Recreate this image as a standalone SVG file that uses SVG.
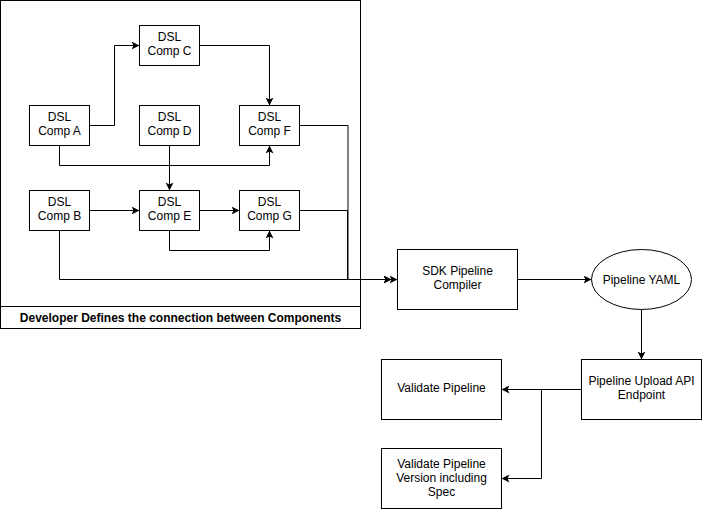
<svg xmlns="http://www.w3.org/2000/svg" width="702" height="510" viewBox="0 0 702 510">
<style>
.box{fill:#fff;stroke:#000;stroke-width:1}
.t{font-family:"Liberation Sans",Arial,sans-serif;font-size:12px;fill:#000;text-anchor:middle}
.tb{font-family:"Liberation Sans",Arial,sans-serif;font-size:12px;font-weight:bold;fill:#000;text-anchor:middle}
.c{fill:none;stroke:#000;stroke-width:1}
</style>
<defs>
<marker id="arr" markerUnits="userSpaceOnUse" markerWidth="10" markerHeight="10" refX="8" refY="4" orient="auto">
<path d="M0,0 L8,4 L0,8 L2,4 Z" fill="#000"/>
</marker>
</defs>
<rect width="702" height="510" fill="#fff"/>
<g id="container">
<rect class="box" x="0.5" y="0.5" width="360" height="328"/>
<line x1="0.5" y1="306.5" x2="360.5" y2="306.5" stroke="#000"/>
<text class="tb" x="180.5" y="321.5">Developer Defines the connection between Components</text>
</g>
<g id="connectors">
<path class="c" d="M89.5,125.5 H114.5 V45.5 H139.5" marker-end="url(#arr)"/>
<path class="c" d="M199.5,45.5 H269.5 V105.5" marker-end="url(#arr)"/>
<path class="c" d="M59.5,145.5 V165.5 H269.5 V145.5" marker-end="url(#arr)"/>
<path class="c" d="M169.5,145.5 V190.5" marker-end="url(#arr)"/>
<path class="c" d="M89.5,210.5 H139.5" marker-end="url(#arr)"/>
<path class="c" d="M199.5,210.5 H239.5" marker-end="url(#arr)"/>
<path class="c" d="M169.5,230.5 V250.5 H269.5 V230.5" marker-end="url(#arr)"/>
<path class="c" d="M299.5,125.5 H348 V279.5 H391.5" stroke="#777" marker-end="url(#arr)"/>
<path class="c" d="M299.5,210.5 H347.5 V279.5 H391.5" marker-end="url(#arr)"/>
<path class="c" d="M59.5,230.5 V279.5 H397.5" marker-end="url(#arr)"/>
<path class="c" d="M517.5,279.5 H591.5" marker-end="url(#arr)"/>
<path class="c" d="M641.5,309.5 V359.5" marker-end="url(#arr)"/>
<path class="c" d="M581.5,389.5 H501.5" marker-end="url(#arr)"/>
<path class="c" d="M541.5,389.5 V478.5 H501.5" marker-end="url(#arr)"/>
</g>
<g id="compC"><rect class="box" x="139.5" y="25.5" width="60" height="40"/><text class="t" x="169.5" y="41">DSL</text><text class="t" x="169.5" y="55">Comp C</text></g>
<g id="compA"><rect class="box" x="29.5" y="105.5" width="60" height="40"/><text class="t" x="59.5" y="121">DSL</text><text class="t" x="59.5" y="135">Comp A</text></g>
<g id="compD"><rect class="box" x="139.5" y="105.5" width="60" height="40"/><text class="t" x="169.5" y="121">DSL</text><text class="t" x="169.5" y="135">Comp D</text></g>
<g id="compF"><rect class="box" x="239.5" y="105.5" width="60" height="40"/><text class="t" x="269.5" y="121">DSL</text><text class="t" x="269.5" y="135">Comp F</text></g>
<g id="compB"><rect class="box" x="29.5" y="190.5" width="60" height="40"/><text class="t" x="59.5" y="206">DSL</text><text class="t" x="59.5" y="220">Comp B</text></g>
<g id="compE"><rect class="box" x="139.5" y="190.5" width="60" height="40"/><text class="t" x="169.5" y="206">DSL</text><text class="t" x="169.5" y="220">Comp E</text></g>
<g id="compG"><rect class="box" x="239.5" y="190.5" width="60" height="40"/><text class="t" x="269.5" y="206">DSL</text><text class="t" x="269.5" y="220">Comp G</text></g>
<g id="sdk"><rect class="box" x="397.5" y="249.5" width="120" height="60"/><text class="t" x="457.5" y="275">SDK Pipeline</text><text class="t" x="457.5" y="289">Compiler</text></g>
<g id="yaml"><ellipse class="box" cx="641.5" cy="279.5" rx="50" ry="30"/><text class="t" x="641.5" y="284">Pipeline YAML</text></g>
<g id="upload"><rect class="box" x="581.5" y="359.5" width="120" height="60"/><text class="t" x="641.5" y="385">Pipeline Upload API</text><text class="t" x="641.5" y="399">Endpoint</text></g>
<g id="validate"><rect class="box" x="381.5" y="359.5" width="120" height="60"/><text class="t" x="441.5" y="392">Validate Pipeline</text></g>
<g id="validateVersion"><rect class="box" x="381.5" y="448.5" width="120" height="60"/><text class="t" x="441.5" y="468">Validate Pipeline</text><text class="t" x="441.5" y="482">Version including</text><text class="t" x="441.5" y="496">Spec</text></g>
</svg>
